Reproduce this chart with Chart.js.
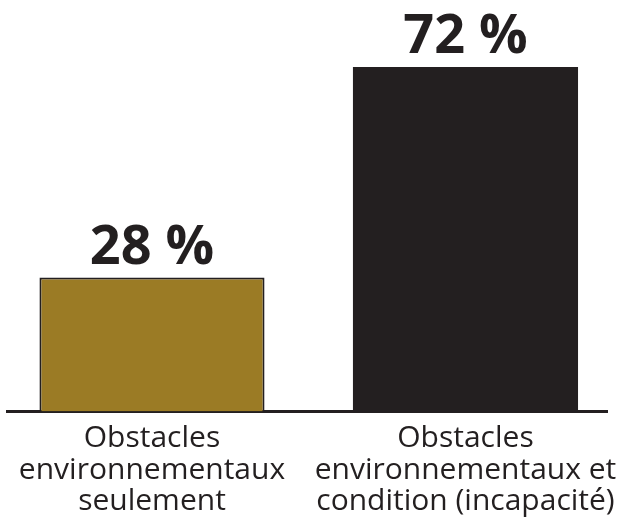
<!DOCTYPE html>
<html>
<head>
<meta charset="utf-8">
<script src="https://cdn.jsdelivr.net/npm/chart.js@4.4.1/dist/chart.umd.min.js"></script>
<style>
  html, body { margin: 0; padding: 0; background: #fff; overflow: hidden; }
  canvas { display: block; }
</style>
</head>
<body>
<canvas id="myChart" width="617" height="522"></canvas>
<script>
// data
const categories = [
    ['Obstacles', 'environnementaux', 'seulement'],
    ['Obstacles', 'environnementaux et', 'condition (incapacité)']
];
const values = [28, 72];
const barColors = ['#9b7b25', '#231f20'];
const barBorders = ['#231f20', '#231f20'];
const barBorderWidths = [2, 0];

// draws "28 %" / "72 %" above each bar
const valueLabels = {
    id: 'valueLabels',
    afterDatasetsDraw(chart) {
        const ctx = chart.ctx;
        const meta = chart.getDatasetMeta(0);
        ctx.save();
        ctx.fillStyle = '#231f20';
        ctx.font = 'bold 54px "Open Sans"';
        ctx.textAlign = 'center';
        ctx.textBaseline = 'alphabetic';
        meta.data.forEach((bar, i) => {
            ctx.fillText(values[i] + ' %', bar.x, bar.y - 14);
        });
        ctx.restore();
    }
};

const ctx = document.getElementById('myChart');
const myChart = new Chart(ctx, {
    type: 'bar',
    data: {
        datasets: [{
            data: values.map((v, i) => ({ x: i, y: v })),
            backgroundColor: barColors,
            borderColor: barBorders,
            borderWidth: barBorderWidths,
            borderSkipped: 'bottom',
            barPercentage: 0.718,
            categoryPercentage: 1
        }]
    },
    options: {
        responsive: false,
        animation: false,
        layout: { padding: { left: 7, right: 10, top: 0, bottom: 0 } },
        plugins: {
            legend: { display: false },
            tooltip: { enabled: false }
        },
        scales: {
            x: {
                type: 'linear',
                min: -0.4625,
                max: 1.4514,
                bounds: 'data',
                offset: false,
                grid: { display: false, drawTicks: false, offset: false },
                border: { display: true, color: '#231f20', width: 3 },
                ticks: {
                    autoSkip: false,
                    maxRotation: 0,
                    minRotation: 0,
                    padding: 11.5,
                    color: '#231f20',
                    font: { family: '"Open Sans"', size: 30, lineHeight: '31.5px' },
                    callback: (v) => categories[v] || ''
                },
                // one tick per category
                afterBuildTicks: (scale) => {
                    scale.ticks = categories.map((c, i) => ({ value: i }));
                },
                afterFit: (scale) => {
                    scale.height = 110.5;
                    scale.paddingLeft = 0;
                    scale.paddingRight = 0;
                }
            },
            y: {
                display: false,
                beginAtZero: true,
                min: 0,
                max: 86
            }
        }
    },
    plugins: [valueLabels]
});
</script>
</body>
</html>
